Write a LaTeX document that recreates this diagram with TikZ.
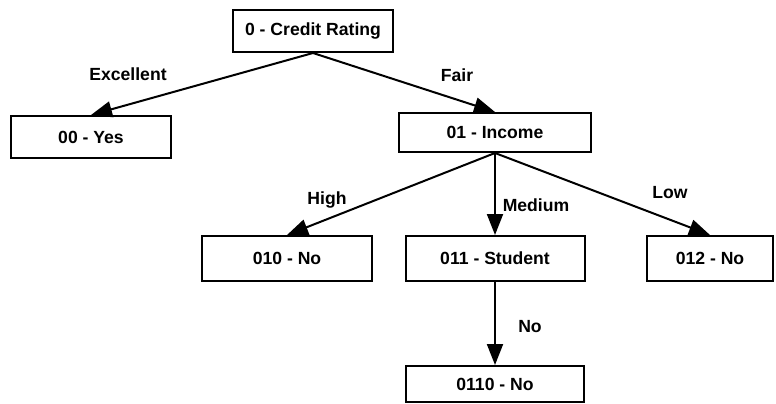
\documentclass[tikz,border=0pt]{standalone}
\usepackage{fontspec}
\setmainfont{Liberation Sans}
\usetikzlibrary{arrows.meta}

\begin{document}
\begin{tikzpicture}[x=1pt,y=-1pt]
        \tikzstyle{box}=[draw=black,line width=2pt,inner sep=0pt,font=\fontsize{17.6}{20}\selectfont\bfseries]
        \tikzstyle{edge}=[line width=2pt,-{Triangle[length=21pt,width=16pt]}]
        \tikzstyle{lbl}=[fill=white,inner sep=1pt,font=\fontsize{17.6}{20}\selectfont\bfseries]
        \useasboundingbox (0,0) rectangle (776,404);
        \node[box,minimum width=160pt,minimum height=42pt] (root) at (313,31) {0 - Credit Rating};
        \node[box,minimum width=160pt,minimum height=42pt] (yes) at (91,137) {00 - Yes};
        \node[box,minimum width=192pt,minimum height=39pt] (income) at (495,132.5) {01 - Income};
        \node[box,minimum width=170pt,minimum height=45pt] (no010) at (287,258.5) {010 - No};
        \node[box,minimum width=179pt,minimum height=45pt] (student) at (495,258.5) {011 - Student};
        \node[box,minimum width=126pt,minimum height=45pt] (no012) at (710,258.5) {012 - No};
        \node[box,minimum width=178pt,minimum height=36pt] (no0110) at (495,384) {0110 - No};
        \draw[edge] (root.south) -- (yes.north);
        \draw[edge] (root.south) -- (income.north);
        \draw[edge] (income.south) -- (no010.north);
        \draw[edge] (income.south) -- (student.north);
        \draw[edge] (income.south) -- (no012.north);
        \draw[edge] (student.south) -- (no0110.north);
        \node[lbl] (excellent) at (128,74) {Excellent};
        \node[lbl] (fair) at (457,75) {Fair};
        \node[lbl] (high) at (327,200) {High};
        \node[lbl] (medium) at (536,205) {Medium};
        \node[lbl] (low) at (670,193) {Low};
        \node[lbl] (no) at (530,327) {No};
    \end{tikzpicture}
\end{document}
